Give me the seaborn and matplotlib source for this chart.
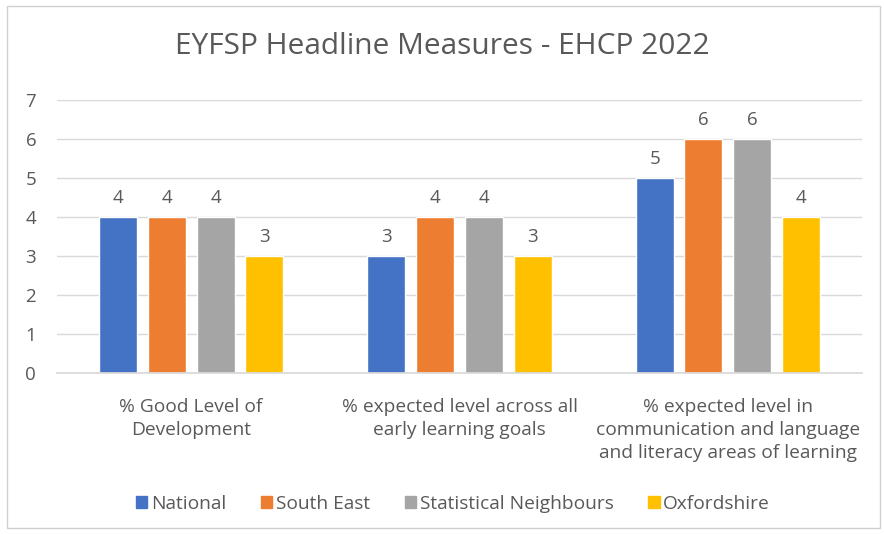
import pandas as pd
import matplotlib.pyplot as plt
import seaborn as sns
from matplotlib.patches import Rectangle

# data
measures = ['% Good Level of\nDevelopment',
            '% expected level across all\nearly learning goals',
            '% expected level in\ncommunication and language\nand literacy areas of learning']
areas = ['National', 'South East', 'Statistical Neighbours', 'Oxfordshire']
national = [4, 3, 5]
south_east = [4, 4, 6]
stat_neighbours = [4, 4, 6]
oxfordshire = [3, 3, 4]
colors = ['#4472C4', '#ED7D31', '#A5A5A5', '#FFC000']

rows = []
for area, vals in zip(areas, [national, south_east, stat_neighbours, oxfordshire]):
    for m, v in zip(measures, vals):
        rows.append({'measure': m, 'area': area, 'value': v})
df = pd.DataFrame(rows)

sns.set_theme(style='white')
plt.rcParams['font.family'] = ['Open Sans', 'DejaVu Sans']
txt = '#595959'

fig = plt.figure(figsize=(8.84, 5.34), dpi=100)
fig.patches.append(Rectangle((7 / 884, 6 / 534), 873 / 884, 522 / 534, transform=fig.transFigure,
                             fill=False, edgecolor='#D0D0D0', linewidth=1))
ax = fig.add_axes([57 / 884, 1 - 373 / 534, 805 / 884, 273 / 534])

sns.barplot(data=df, x='measure', y='value', hue='area', hue_order=areas, order=measures,
            palette=colors, width=0.726, gap=0.22, saturation=1, ax=ax, legend=False)

for cont in ax.containers:
    ax.bar_label(cont, padding=7, fontsize=13.5, color=txt)

ax.set_ylim(0, 7)
ax.set_xlim(-0.5, 2.5)
ax.set_yticks(range(8))
ax.yaxis.grid(True, color='#D9D9D9', linewidth=1)
ax.set_axisbelow(True)
for s in ['top', 'right', 'left']:
    ax.spines[s].set_visible(False)
ax.spines['bottom'].set_color('#D9D9D9')
ax.tick_params(axis='y', length=0, pad=15, labelsize=13.5, labelcolor=txt)
ax.tick_params(axis='x', length=0, pad=18, labelsize=13.75, labelcolor=txt)
for lab in ax.get_xticklabels():
    lab.set_linespacing(1.36)
    lab.set_verticalalignment('top')
ax.set_xlabel('')
ax.set_ylabel('')

fig.text(0.5, 1 - 47 / 534, 'EYFSP Headline Measures - EHCP 2022', ha='center', va='center',
         fontsize=21.5, color=txt)

handles = [Rectangle((0, 0), 1, 1, color=c) for c in colors]
fig.legend(handles, areas, loc='center', bbox_to_anchor=(453 / 884, 1 - 504 / 534), ncol=4, frameon=False,
           fontsize=13.75, labelcolor=txt, handlelength=0.6, handleheight=0.6, handletextpad=0.2,
           columnspacing=1.8)

fig.savefig('out.png', dpi=100)
